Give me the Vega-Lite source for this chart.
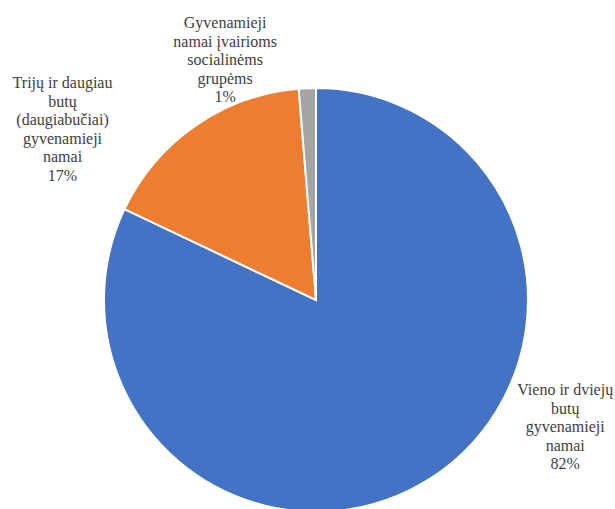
{
  "$schema": "https://vega.github.io/schema/vega-lite/v6.json",
  "width": 632,
  "height": 600,
  "autosize": {"type": "none"},
  "padding": 0,
  "background": "white",
  "config": {"view": {"stroke": null}, "text": {"font": "Liberation Serif"}},
  "data": {
    "values": [
      {"category": "Vieno ir dviejų butų gyvenamieji namai", "value": 82.05, "label": "Vieno ir dviejų\nbutų\ngyvenamieji\nnamai\n82%"},
      {"category": "Trijų ir daugiau butų (daugiabučiai) gyvenamieji namai", "value": 16.65, "label": "Trijų ir daugiau\nbutų\n(daugiabučiai)\ngyvenamieji\nnamai\n17%"},
      {"category": "Gyvenamieji namai įvairioms socialinėms grupėms", "value": 1.3, "label": "Gyvenamieji\nnamai įvairioms\nsocialinėms\ngrupėms\n1%"}
    ]
  },
  "encoding": {
    "theta": {"field": "value", "type": "quantitative", "stack": true},
    "order": {"field": "category", "sort": "descending"}
  },
  "layer": [
    {
      "mark": {"type": "arc", "outerRadius": 212, "stroke": "white", "strokeWidth": 2},
      "encoding": {
        "color": {
          "field": "category",
          "type": "nominal",
          "scale": {
            "domain": ["Vieno ir dviejų butų gyvenamieji namai", "Trijų ir daugiau butų (daugiabučiai) gyvenamieji namai", "Gyvenamieji namai įvairioms socialinėms grupėms"],
            "range": ["#4472C4", "#ED7D31", "#A5A5A5"]
          },
          "legend": null
        }
      }
    },
    {
      "mark": {"type": "text", "font": "Liberation Serif", "radius": 238, "dx": 122, "dy": -111, "fontSize": 16, "lineHeight": 18.5, "lineBreak": "\n", "color": "#404040", "align": "center", "baseline": "middle"},
      "encoding": {"text": {"condition": {"test": "datum.value > 50", "field": "label"}, "value": ""}}
    },
    {
      "mark": {"type": "text", "font": "Liberation Serif", "radius": 284, "dx": -92, "dy": 17, "fontSize": 16, "lineHeight": 18.5, "lineBreak": "\n", "color": "#404040", "align": "center", "baseline": "middle"},
      "encoding": {"text": {"condition": {"test": "datum.value > 10 && datum.value < 50", "field": "label"}, "value": ""}}
    },
    {
      "mark": {"type": "text", "font": "Liberation Serif", "radius": 242, "dx": -81, "dy": -35, "fontSize": 16, "lineHeight": 18.5, "lineBreak": "\n", "color": "#404040", "align": "center", "baseline": "middle"},
      "encoding": {"text": {"condition": {"test": "datum.value < 10", "field": "label"}, "value": ""}}
    }
  ]
}
